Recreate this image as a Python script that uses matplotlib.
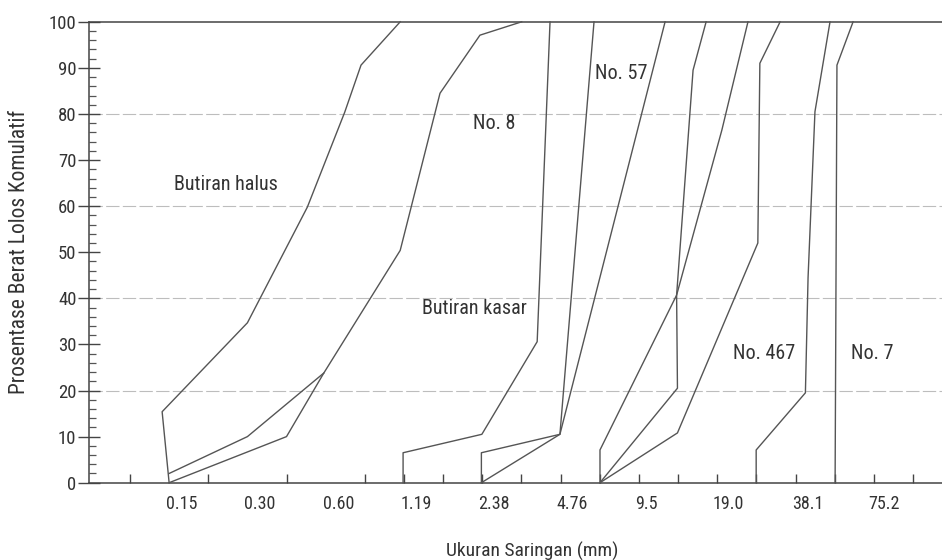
import matplotlib
matplotlib.use('Agg')
import matplotlib.pyplot as plt
import matplotlib.transforms as mtransforms
from matplotlib import font_manager
from matplotlib.ticker import FixedLocator


def pick_font():
    lst = font_manager.fontManager.ttflist
    for nm in ['Liberation Sans Narrow', 'Roboto Condensed', 'Open Sans Condensed',
               'Noto Sans Condensed', 'DejaVu Sans Condensed']:
        if any(f.name == nm for f in lst):
            return nm, 'normal'
    for nm in ['Roboto', 'Noto Sans', 'Open Sans', 'DejaVu Sans']:
        for st in ['condensed', 'semi-condensed', 'extra-condensed']:
            for f in lst:
                if f.name == nm and str(f.stretch) == st and f.style == 'normal':
                    return nm, st
    return 'DejaVu Sans', 'normal'


FONT, STRETCH = pick_font()
plt.rcParams['font.family'] = [FONT, 'DejaVu Sans']
plt.rcParams['font.stretch'] = STRETCH

# ---------------- data ----------------
sieve_sizes = [0.15, 0.30, 0.60, 1.19, 2.38, 4.76, 9.5, 19.0, 38.1, 75.2]
sieve_labels = ['0.15', '0.30', '0.60', '1.19', '2.38', '4.76', '9.5', '19.0', '38.1', '75.2']
y_ticks = [0, 10, 20, 30, 40, 50, 60, 70, 80, 90, 100]
grid_levels = [20, 40, 60, 80]

halus_atas_x = [0.15, 0.141, 0.30, 0.51, 0.71, 0.82, 1.16]
halus_atas_y = [0, 15.4, 34.7, 59.8, 80.4, 90.6, 100]
halus_bawah1_x = [0.15, 0.30, 0.59]
halus_bawah1_y = [2.0, 10.0, 23.8]
halus_bawah2_x = [0.15, 0.424, 0.59, 1.16, 1.65, 2.35, 3.40]
halus_bawah2_y = [0, 10.0, 23.8, 50.4, 84.5, 97.1, 100]

no8_x = [1.19, 1.19, 2.39, 3.90, 4.37]
no8_y = [0, 6.5, 10.5, 30.6, 100]
no57_kiri_x = [2.38, 2.38, 4.77, 6.45]
no57_kiri_y = [0, 6.5, 10.5, 100]
no57_kanan_x = [2.38, 4.77, 12.1]
no57_kanan_y = [0, 10.5, 100]

kasar_a_x = [6.8, 6.8, 13.4, 15.5, 17.4]
kasar_a_y = [0, 7.1, 40.7, 89.5, 100]
kasar_b_x = [6.8, 13.5, 13.4, 20.0, 25.2]
kasar_b_y = [0, 20.5, 40.7, 76.5, 100]
kasar_c_x = [6.8, 13.5, 27.5, 28.0, 33.5]
kasar_c_y = [0, 10.8, 52.0, 91.0, 100]
kasar_d_x = [27.1, 27.1, 41.9, 42.9, 45.6, 52.1]
kasar_d_y = [0, 7.1, 19.5, 44.5, 80.5, 100]
kasar_e_x = [54.5, 55.4, 63.9]
kasar_e_y = [0, 90.6, 100]

curves = [
    (halus_atas_x, halus_atas_y), (halus_bawah1_x, halus_bawah1_y),
    (halus_bawah2_x, halus_bawah2_y), (no8_x, no8_y),
    (no57_kiri_x, no57_kiri_y), (no57_kanan_x, no57_kanan_y),
    (kasar_a_x, kasar_a_y), (kasar_b_x, kasar_b_y), (kasar_c_x, kasar_c_y),
    (kasar_d_x, kasar_d_y), (kasar_e_x, kasar_e_y),
]

annotations = [
    ('Butiran halus', 0.248, 64.8),
    ('No. 8', 2.66, 78.0),
    ('No. 57', 8.19, 88.7),
    ('Butiran kasar', 2.23, 37.7),
    ('No. 467', 29.0, 28.1),
    ('No. 7', 75.6, 28.1),
]

# ---------------- figure ----------------
W, H = 942, 560
fig = plt.figure(figsize=(W / 100, H / 100), dpi=100)
fig.patch.set_facecolor('white')
ax = fig.add_axes([89.3 / W, 1 - 482.7 / H, (W - 89.3) / W, (482.7 - 21.8) / H])
ax.set_xscale('log', base=2)
ax.set_xlim(0.0740, 140.4)
ax.set_ylim(0, 100)

LINE = '#555555'
TEXT = '#333333'

for lvl in grid_levels:
    ax.axhline(lvl, color='#bdbdbd', lw=0.8, ls=(0, (12, 3)), zorder=1)

for xs, ys in curves:
    ax.plot(xs, ys, color=LINE, lw=1.0, zorder=3, clip_on=False)

for txt, x, y in annotations:
    ax.text(x, y, txt, ha='center', va='center', fontsize=14.5, color=TEXT)

# spines
for side in ['left', 'bottom', 'top']:
    ax.spines[side].set_color('#444444')
    ax.spines[side].set_linewidth(1.1)
ax.spines['right'].set_visible(False)

# y ticks
ax.set_yticks(y_ticks)
ax.yaxis.set_minor_locator(FixedLocator([v for v in range(0, 101, 2)]))
ax.tick_params(axis='y', which='major', direction='inout', length=16.5, width=1.0,
               color='#444444', labelsize=13.5, labelcolor=TEXT, pad=1)
ax.tick_params(axis='y', which='minor', direction='in', length=5, width=0.9, color='#555555')

# x ticks
minor_pos = [0.15 * 2 ** (k / 2) for k in range(-1, 20)]
ax.set_xticks(sieve_sizes)
ax.set_xticklabels(sieve_labels)
ax.xaxis.set_minor_locator(FixedLocator(minor_pos))
ax.xaxis.set_minor_formatter(plt.NullFormatter())
ax.tick_params(axis='x', which='major', length=0, labelsize=13, labelcolor=TEXT, pad=9)
ax.tick_params(axis='x', which='minor', direction='in', length=6.5, width=1.0, color='#444444')
offset = mtransforms.ScaledTranslation(-3 / 100, 0, fig.dpi_scale_trans)
for lab in ax.get_xticklabels():
    lab.set_horizontalalignment('left')
    lab.set_transform(lab.get_transform() + offset)

fig.text(532 / W, 1 - 551 / H, 'Ukuran Saringan (mm)', ha='center', va='center',
         fontsize=14, color=TEXT)
fig.text(20 / W, 1 - 252 / H, 'Prosentase Berat Lolos Komulatif', ha='center', va='center',
         rotation=90, fontsize=15.5, color=TEXT)

fig.savefig('out.png', dpi=100, facecolor='white')
